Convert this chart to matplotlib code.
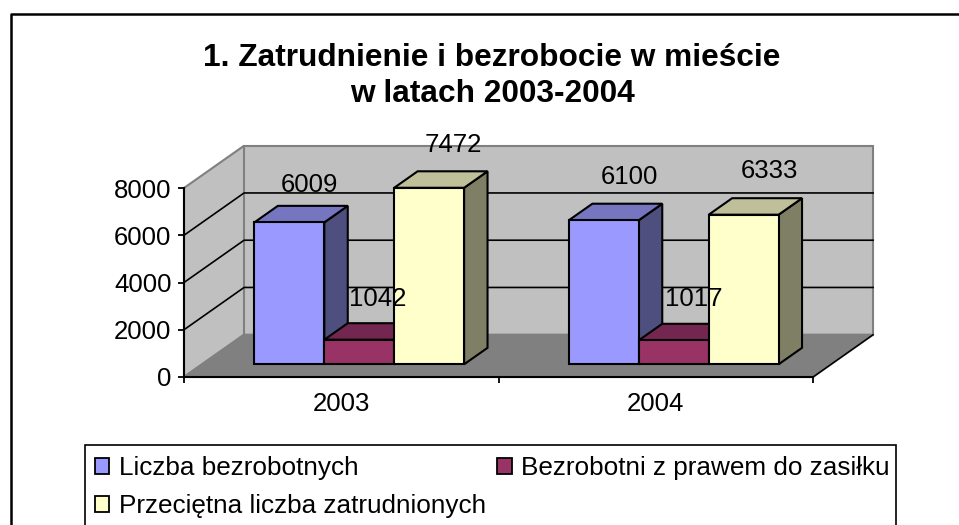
import matplotlib
matplotlib.use("Agg")
import matplotlib.pyplot as plt
from matplotlib.lines import Line2D
from matplotlib.patches import Polygon, Rectangle

plt.rcParams['font.family'] = ['Liberation Sans', 'DejaVu Sans']

title = "1. Zatrudnienie i bezrobocie w mieście\nw latach 2003-2004"
years = ["2003", "2004"]
series_names = ["Liczba bezrobotnych", "Bezrobotni z prawem do zasiłku", "Przeciętna liczba zatrudnionych"]
bezrobotni = [6009, 6100]
z_zasilkiem = [1042, 1017]
zatrudnieni = [7472, 6333]
yticks = [0, 2000, 4000, 6000, 8000]

# front, top, side shade per series
shades = [("#9999FF", "#7676C0", "#4F4F7F"),
          ("#993366", "#732650", "#4D1A33"),
          ("#FFFFCC", "#BFBF99", "#7F7F66")]

W, H = 959, 525
DX, DY = 0.191, 1790   # full depth of the box, in axis units
BAR_W = 2 / 9
D0, D1 = 0.30, 0.69    # depth range taken up by the bars
LW = 1.5
FS = 18.5

# data label offsets from the bar's front top centre, in pixels (year, then series)
label_px = [[(20, 37), (18, 41), (24, 43)],
            [(26, 43), (20, 41), (26, 44)]]

fig = plt.figure(figsize=(W / 100, H / 100), dpi=100, facecolor="white")
ax = fig.add_axes([184 / W, 1 - 377 / H, (813 - 184) / W, (377 - 188) / H])
ax.set_xlim(0, 2)
ax.set_ylim(0, 8000)
ax.patch.set_visible(False)


def pt(c, v, d=0.0):
    return (c + d * DX, v + d * DY)


def poly(points, fc, ec="black", lw=LW, z=2):
    ax.add_patch(Polygon(points, closed=True, facecolor=fc, edgecolor=ec, linewidth=lw,
                         zorder=z, clip_on=False, joinstyle="miter"))


# walls and floor
poly([pt(0, 0), pt(0, 8000), pt(0, 8000, 1), pt(0, 0, 1)], "#C0C0C0", ec="#808080", z=1)
poly([pt(0, 0, 1), pt(0, 8000, 1), pt(2, 8000, 1), pt(2, 0, 1)], "#C0C0C0", ec="#808080", z=1)
poly([pt(0, 0), pt(0, 0, 1), pt(2, 0, 1), pt(2, 0)], "#808080", ec="#808080", z=1)
ax.plot(*zip(pt(2, 0), pt(2, 0, 1)), color="black", lw=1.1, zorder=1.2, clip_on=False)

for v in yticks[1:-1]:
    xs, ys = zip(pt(0, v), pt(0, v, 1), pt(2, v, 1))
    ax.plot(xs, ys, color="black", lw=1.2, zorder=1.1, clip_on=False)

# bars
z = 2
for i, year in enumerate(years):
    vals = [bezrobotni[i], z_zasilkiem[i], zatrudnieni[i]]
    for j, v in enumerate(vals):
        left = i + 1 / 6 + j * BAR_W
        right = left + BAR_W
        front, top, side = shades[j]
        poly([pt(right, 0, D0), pt(right, v, D0), pt(right, v, D1), pt(right, 0, D1)], side, z=z)
        poly([pt(left, v, D0), pt(left, v, D1), pt(right, v, D1), pt(right, v, D0)], top, z=z)
        poly([pt(left, 0, D0), pt(left, v, D0), pt(right, v, D0), pt(right, 0, D0)], front, z=z)
        z += 0.1
        ox, oy = label_px[i][j]
        ax.annotate(str(v), xy=pt((left + right) / 2, v, D0), xytext=(ox * 0.72, oy * 0.72),
                    textcoords="offset points", ha="center", va="center", fontsize=FS, color="black",
                    zorder=10, annotation_clip=False)

# axes
for s in ["top", "right"]:
    ax.spines[s].set_visible(False)
for s in ["left", "bottom"]:
    ax.spines[s].set_linewidth(1.5)
    ax.spines[s].set_zorder(5)
ax.set_yticks(yticks)
ax.set_yticklabels([str(v) for v in yticks], fontsize=FS)
ax.tick_params(axis="y", length=4, width=1.3, pad=5)
ax.set_xticks([0, 1, 2])
ax.set_xticklabels([])
ax.tick_params(axis="x", which="major", length=4, width=1.3)
ax.set_xticks([0.5, 1.5], minor=True)
ax.set_xticklabels(years, minor=True, fontsize=FS)
ax.tick_params(axis="x", which="minor", length=0, pad=11)

fig.text(492 / W, 1 - 76 / H, title, ha="center", va="center", fontsize=22.75, fontweight="bold",
         linespacing=1.27)

# outer frame has only top and left edges in view, legend box runs past the bottom
fig.add_artist(Line2D([11 / W, 11 / W, 1], [0, 1 - 13.5 / H, 1 - 13.5 / H], transform=fig.transFigure,
                      color="black", linewidth=1.8, zorder=0))
fig.add_artist(Rectangle((85 / W, -0.1), (896 - 85) / W, 1 - 445 / H + 0.1, transform=fig.transFigure,
                         facecolor="none", edgecolor="black", linewidth=1.2, zorder=0))

handles = [Rectangle((0, 0), 1, 1, facecolor=shades[k][0], edgecolor="black", linewidth=1.3) for k in (0, 2, 1)]
labels = [series_names[k] for k in (0, 2, 1)]
fig.legend(handles, labels, ncol=2, frameon=False, fontsize=18.85, loc="upper left",
           bbox_to_anchor=(95 / W, 1 - 456 / H), borderaxespad=0, borderpad=0,
           handlelength=0.55, handleheight=0.55, handletextpad=0.35, columnspacing=0.45, labelspacing=0.53)

fig.savefig("out.png", dpi=100)
